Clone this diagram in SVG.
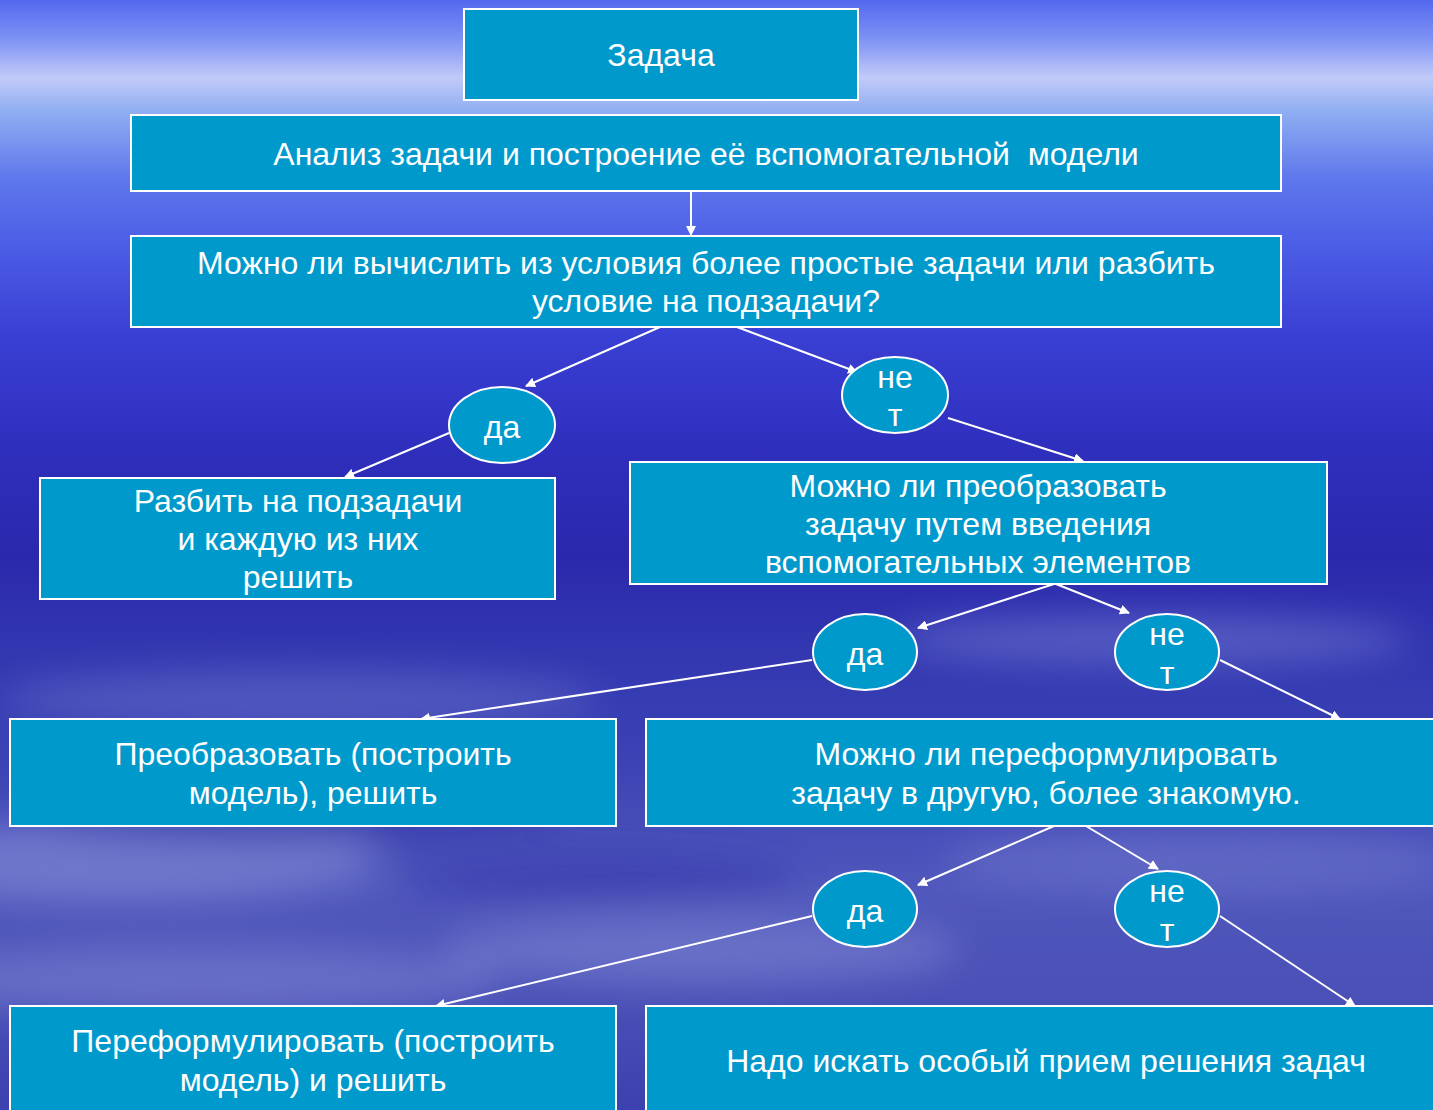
<svg xmlns="http://www.w3.org/2000/svg" width="1433" height="1110" viewBox="0 0 1433 1110">
<defs>
<linearGradient id="bg" x1="0" y1="0" x2="0" y2="1">
<stop offset="0" stop-color="#5468f0"/>
<stop offset="0.035" stop-color="#7d92f4"/>
<stop offset="0.07" stop-color="#c2caf8"/>
<stop offset="0.1" stop-color="#90aef2"/>
<stop offset="0.16" stop-color="#5f78ec"/>
<stop offset="0.22" stop-color="#4c5ee6"/>
<stop offset="0.3" stop-color="#3a40d4"/>
<stop offset="0.4" stop-color="#2f2fbe"/>
<stop offset="0.5" stop-color="#2a28ac"/>
<stop offset="0.58" stop-color="#3236b0"/>
<stop offset="0.68" stop-color="#3a42b4"/>
<stop offset="0.8" stop-color="#5058bc"/>
<stop offset="0.9" stop-color="#4a50b6"/>
<stop offset="1" stop-color="#3c40b0"/>
</linearGradient>
<filter id="blur" x="-20%" y="-50%" width="140%" height="200%"><feGaussianBlur stdDeviation="18"/></filter>
<marker id="arr" viewBox="0 0 10 10" refX="9" refY="5" markerWidth="5" markerHeight="5" orient="auto" markerUnits="strokeWidth">
<path d="M0,0 L10,5 L0,10 Z" fill="#ffffff"/>
</marker>
</defs>
<style>
.box{fill:#0099cc;stroke:#ffffff;stroke-width:2}
.t{font-family:"Liberation Sans",Arial,sans-serif;font-size:32px;fill:#ffffff;text-anchor:middle}
.c{stroke:#ffffff;stroke-width:2;fill:none;marker-end:url(#arr)}
</style>
<rect width="1433" height="1110" fill="url(#bg)"/>
<g filter="url(#blur)" opacity="0.45">
<ellipse cx="1150" cy="640" rx="260" ry="25" fill="#8088d8"/>
<ellipse cx="300" cy="700" rx="300" ry="30" fill="#7078cc"/>
<ellipse cx="120" cy="860" rx="260" ry="40" fill="#9aa2e0"/>
<ellipse cx="700" cy="950" rx="260" ry="35" fill="#8a92d8"/>
<ellipse cx="200" cy="980" rx="300" ry="35" fill="#8890d8"/>
<ellipse cx="1200" cy="860" rx="260" ry="30" fill="#7880d0"/>
<ellipse cx="300" cy="820" rx="260" ry="20" fill="#2a2aa0"/>
<ellipse cx="600" cy="880" rx="200" ry="25" fill="#2c2ca8"/>
</g>
<g id="connectors">
<line class="c" x1="691" y1="191" x2="691" y2="235"/>
<line class="c" x1="660" y1="327" x2="526" y2="386"/>
<line class="c" x1="737" y1="327" x2="857" y2="372"/>
<line class="c" x1="449" y1="433" x2="345" y2="477"/>
<line class="c" x1="948" y1="418" x2="1083" y2="461"/>
<line class="c" x1="1054" y1="584" x2="918" y2="628"/>
<line class="c" x1="1056" y1="584" x2="1129" y2="613"/>
<line class="c" x1="812" y1="660" x2="421" y2="719"/>
<line class="c" x1="1220" y1="660" x2="1340" y2="719"/>
<line class="c" x1="1054" y1="826" x2="918" y2="885"/>
<line class="c" x1="1086" y1="826" x2="1158" y2="869"/>
<line class="c" x1="812" y1="916" x2="436" y2="1006"/>
<line class="c" x1="1220" y1="916" x2="1355" y2="1006"/>
</g>
<g id="n1"><rect class="box" x="464" y="9" width="394" height="91"/><text class="t" x="661" y="66">Задача</text></g>
<g id="n2"><rect class="box" x="131" y="115" width="1150" height="76"/><text class="t" x="706" y="165" xml:space="preserve">Анализ задачи и построение её вспомогательной  модели</text></g>
<g id="n3"><rect class="box" x="131" y="236" width="1150" height="91"/><text class="t" x="706" y="274">Можно ли вычислить из условия более простые задачи или разбить</text><text class="t" x="706" y="312">условие на подзадачи?</text></g>
<g id="n4"><ellipse class="box" cx="502" cy="425" rx="53" ry="38"/><text class="t" x="502" y="438">да</text></g>
<g id="n5"><ellipse class="box" cx="895" cy="395" rx="53" ry="38"/><text class="t" x="895" y="388">не</text><text class="t" x="895" y="426">т</text></g>
<g id="n6"><rect class="box" x="40" y="478" width="515" height="121"/><text class="t" x="298" y="512">Разбить на подзадачи</text><text class="t" x="298" y="550">и каждую из них</text><text class="t" x="298" y="588">решить</text></g>
<g id="n7"><rect class="box" x="630" y="462" width="697" height="122"/><text class="t" x="978" y="497">Можно ли преобразовать</text><text class="t" x="978" y="535">задачу путем введения</text><text class="t" x="978" y="573">вспомогательных элементов</text></g>
<g id="n8"><ellipse class="box" cx="865" cy="652" rx="52" ry="38"/><text class="t" x="865" y="665">да</text></g>
<g id="n9"><ellipse class="box" cx="1167" cy="652" rx="52" ry="38"/><text class="t" x="1167" y="645">не</text><text class="t" x="1167" y="684">т</text></g>
<g id="n10"><rect class="box" x="10" y="719" width="606" height="107"/><text class="t" x="313" y="765">Преобразовать (построить</text><text class="t" x="313" y="804">модель), решить</text></g>
<g id="n11"><rect class="box" x="646" y="719" width="800" height="107"/><text class="t" x="1046" y="765">Можно ли переформулировать</text><text class="t" x="1046" y="804">задачу в другую, более знакомую.</text></g>
<g id="n12"><ellipse class="box" cx="865" cy="909" rx="52" ry="38"/><text class="t" x="865" y="922">да</text></g>
<g id="n13"><ellipse class="box" cx="1167" cy="909" rx="52" ry="38"/><text class="t" x="1167" y="902">не</text><text class="t" x="1167" y="941">т</text></g>
<g id="n14"><rect class="box" x="10" y="1006" width="606" height="120"/><text class="t" x="313" y="1052">Переформулировать (построить</text><text class="t" x="313" y="1091">модель) и решить</text></g>
<g id="n15"><rect class="box" x="646" y="1006" width="800" height="120"/><text class="t" x="1046" y="1072">Надо искать особый прием решения задач</text></g>
</svg>
